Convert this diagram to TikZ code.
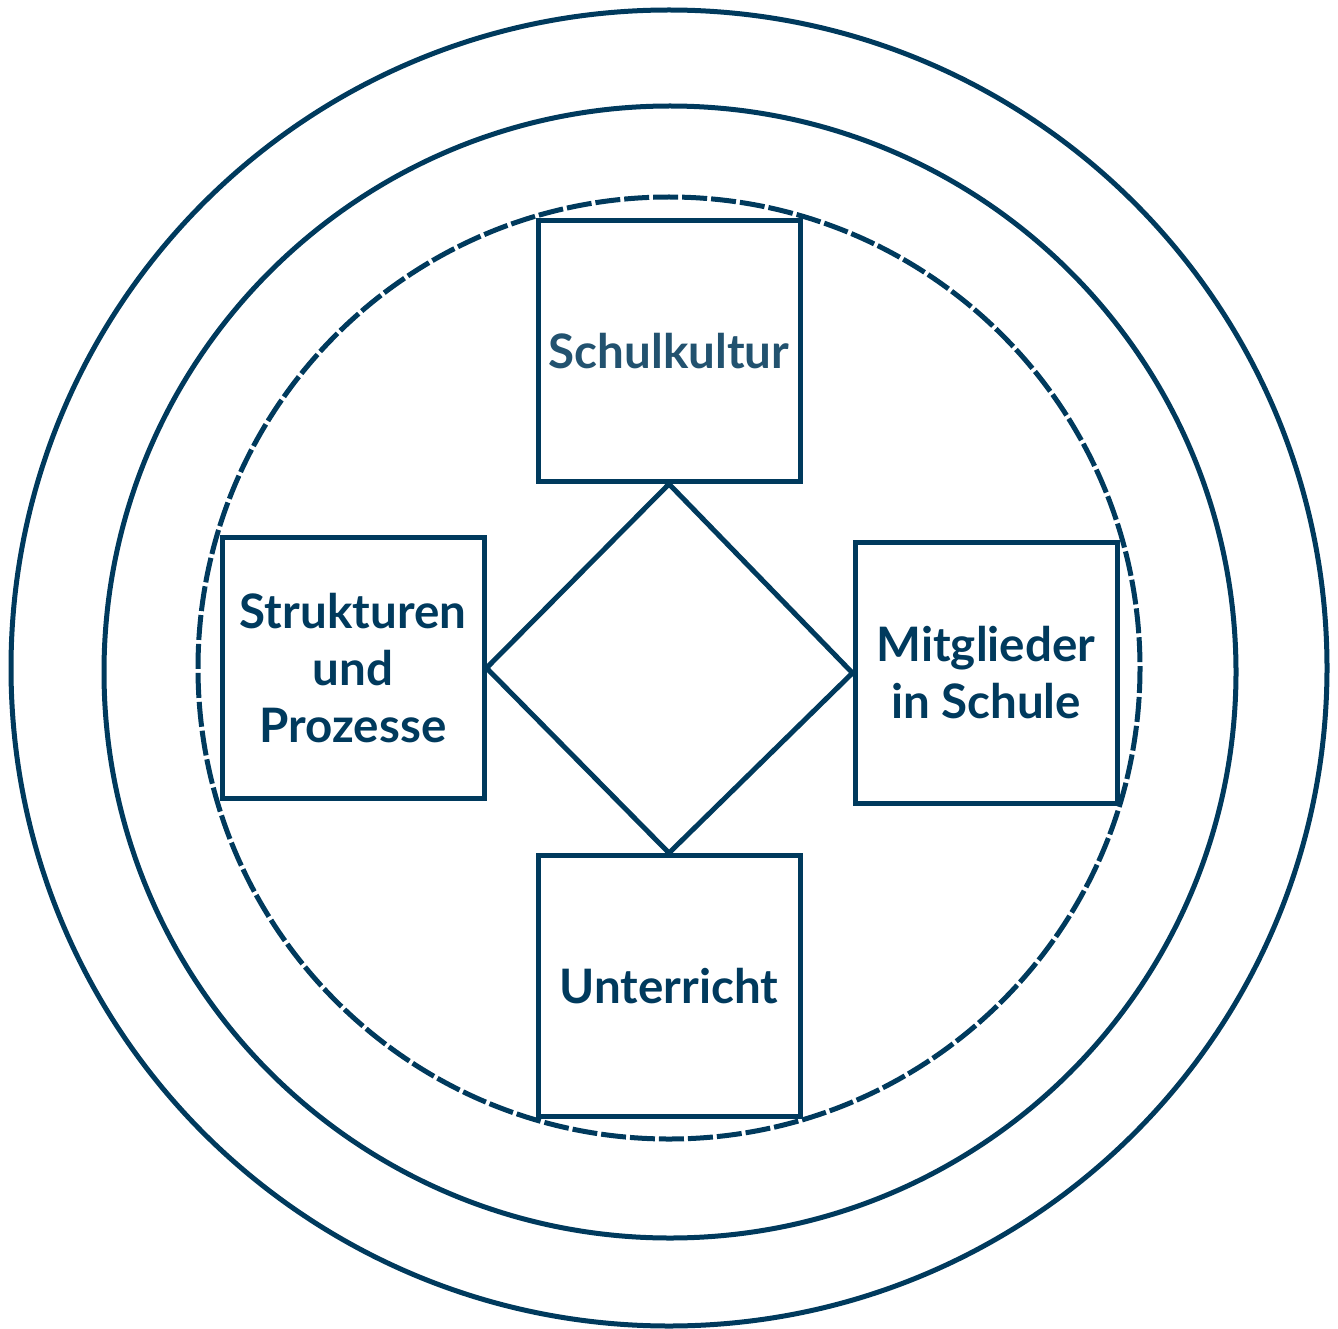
\documentclass[tikz,border=0pt]{standalone}
\usepackage{fontspec}
\setmainfont{Lato}
\definecolor{navy}{HTML}{003A5D}
\definecolor{navylight}{HTML}{22526F}
\begin{document}
\begin{tikzpicture}[x=1pt,y=-1pt,
  ring/.style={draw=navy,line width=5pt},
  dashring/.style={draw=navy,line width=5pt,dash pattern=on 25pt off 4pt},
  areabox/.style={draw=navy,line width=5pt,fill=white,inner sep=0pt,
    minimum width=262pt,minimum height=261pt,align=center,text=navy,
    font=\bfseries\fontsize{47.5}{57}\selectfont},
  link/.style={draw=navy,line width=5pt}]
\useasboundingbox (0,0) rectangle (1338,1329);
\draw[ring] (669,668) circle[radius=658];
\draw[ring] (670,672) circle[radius=566];
\draw[dashring] (669,668) circle[radius=471];
\node[areabox,text=navylight] (sk) at (669,351) {Schulkultur};
\node[areabox] (sp) at (353,668) {Strukturen\\und\\Prozesse};
\node[areabox] (ms) at (986,673) {Mitglieder\\in Schule};
\node[areabox] (ur) at (669,986) {Unterricht};
\draw[link] (sk.south) -- (ms.west) -- (ur.north) -- (sp.east) -- cycle;
\end{tikzpicture}
\end{document}
